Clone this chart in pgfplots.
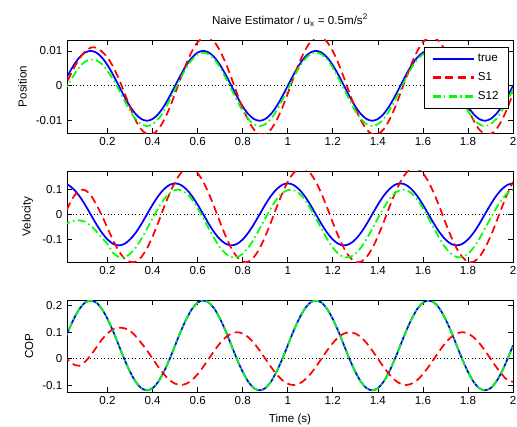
\documentclass[border=0pt]{standalone}
\usepackage{fontspec}
\setmainfont{Liberation Sans}
\usepackage{pgfplots}
\usepackage{pgfplotstable}
\pgfplotsset{compat=1.18}

% position: t, true, S1, S12
\pgfplotstableread{
t true s1 s12
0 0 -0.0017 -0.0015
0.025 0.0031 0.0017 0.0003
0.05 0.0059 0.0050 0.0030
0.075 0.0081 0.0078 0.0053
0.1 0.0095 0.0098 0.0069
0.125 0.0100 0.0109 0.0075
0.15 0.0095 0.0109 0.0073
0.175 0.0081 0.0098 0.0062
0.2 0.0059 0.0081 0.0042
0.225 0.0031 0.0054 0.0018
0.25 0 0.0020 -0.0010
0.275 -0.0031 -0.0020 -0.0042
0.3 -0.0059 -0.0061 -0.0072
0.325 -0.0081 -0.0099 -0.0095
0.35 -0.0095 -0.0125 -0.0110
0.375 -0.0100 -0.0138 -0.0115
0.4 -0.0095 -0.0138 -0.0110
0.425 -0.0081 -0.0125 -0.0095
0.45 -0.0059 -0.0099 -0.0072
0.475 -0.0031 -0.0064 -0.0042
0.5 0 -0.0022 -0.0010
0.525 0.0031 0.0022 0.0022
0.55 0.0059 0.0064 0.0052
0.575 0.0081 0.0099 0.0075
0.6 0.0095 0.0125 0.0090
0.625 0.0100 0.0138 0.0095
0.65 0.0095 0.0138 0.0090
0.675 0.0081 0.0125 0.0075
0.7 0.0059 0.0099 0.0052
0.725 0.0031 0.0064 0.0022
0.75 0 0.0022 -0.0010
0.775 -0.0031 -0.0022 -0.0042
0.8 -0.0059 -0.0064 -0.0072
0.825 -0.0081 -0.0099 -0.0095
0.85 -0.0095 -0.0125 -0.0110
0.875 -0.0100 -0.0138 -0.0115
0.9 -0.0095 -0.0138 -0.0110
0.925 -0.0081 -0.0125 -0.0095
0.95 -0.0059 -0.0099 -0.0072
0.975 -0.0031 -0.0064 -0.0042
1.0 0 -0.0022 -0.0010
1.025 0.0031 0.0022 0.0022
1.05 0.0059 0.0064 0.0052
1.075 0.0081 0.0099 0.0075
1.1 0.0095 0.0125 0.0090
1.125 0.0100 0.0138 0.0095
1.15 0.0095 0.0138 0.0090
1.175 0.0081 0.0125 0.0075
1.2 0.0059 0.0099 0.0052
1.225 0.0031 0.0064 0.0022
1.25 0 0.0022 -0.0010
1.275 -0.0031 -0.0022 -0.0042
1.3 -0.0059 -0.0064 -0.0072
1.325 -0.0081 -0.0099 -0.0095
1.35 -0.0095 -0.0125 -0.0110
1.375 -0.0100 -0.0138 -0.0115
1.4 -0.0095 -0.0138 -0.0110
1.425 -0.0081 -0.0125 -0.0095
1.45 -0.0059 -0.0099 -0.0072
1.475 -0.0031 -0.0064 -0.0042
1.5 0 -0.0022 -0.0010
1.525 0.0031 0.0022 0.0022
1.55 0.0059 0.0064 0.0052
1.575 0.0081 0.0099 0.0075
1.6 0.0095 0.0125 0.0090
1.625 0.0100 0.0138 0.0095
1.65 0.0095 0.0138 0.0090
1.675 0.0081 0.0125 0.0075
1.7 0.0059 0.0099 0.0052
1.725 0.0031 0.0064 0.0022
1.75 0 0.0022 -0.0010
1.775 -0.0031 -0.0022 -0.0042
1.8 -0.0059 -0.0064 -0.0072
1.825 -0.0081 -0.0099 -0.0095
1.85 -0.0095 -0.0125 -0.0110
1.875 -0.0100 -0.0138 -0.0115
1.9 -0.0095 -0.0138 -0.0110
1.925 -0.0081 -0.0125 -0.0095
1.95 -0.0059 -0.0099 -0.0072
1.975 -0.0031 -0.0064 -0.0042
2.0 0 -0.0022 -0.0010
}\postab

% velocity
\pgfplotstableread{
t true s1 s12
0 0.125 -0.030 -0.045
0.025 0.119 0.030 -0.034
0.05 0.101 0.072 -0.026
0.075 0.074 0.097 -0.024
0.1 0.039 0.098 -0.030
0.125 0 0.078 -0.045
0.15 -0.039 0.040 -0.068
0.175 -0.074 -0.005 -0.095
0.2 -0.101 -0.055 -0.120
0.225 -0.119 -0.105 -0.155
0.25 -0.125 -0.148 -0.172
0.275 -0.119 -0.178 -0.172
0.3 -0.101 -0.191 -0.159
0.325 -0.074 -0.191 -0.134
0.35 -0.039 -0.172 -0.099
0.375 0 -0.137 -0.058
0.4 0.039 -0.089 -0.016
0.425 0.074 -0.033 0.025
0.45 0.101 0.027 0.060
0.475 0.119 0.083 0.085
0.5 0.125 0.131 0.098
0.525 0.119 0.166 0.098
0.55 0.101 0.185 0.085
0.575 0.074 0.185 0.060
0.6 0.039 0.166 0.025
0.625 0 0.131 -0.016
0.65 -0.039 0.083 -0.058
0.675 -0.074 0.027 -0.099
0.7 -0.101 -0.033 -0.134
0.725 -0.119 -0.089 -0.159
0.75 -0.125 -0.137 -0.172
0.775 -0.119 -0.172 -0.172
0.8 -0.101 -0.191 -0.159
0.825 -0.074 -0.191 -0.134
0.85 -0.039 -0.172 -0.099
0.875 0 -0.137 -0.058
0.9 0.039 -0.089 -0.016
0.925 0.074 -0.033 0.025
0.95 0.101 0.027 0.060
0.975 0.119 0.083 0.085
1.0 0.125 0.131 0.098
1.025 0.119 0.166 0.098
1.05 0.101 0.185 0.085
1.075 0.074 0.185 0.060
1.1 0.039 0.166 0.025
1.125 0 0.131 -0.016
1.15 -0.039 0.083 -0.058
1.175 -0.074 0.027 -0.099
1.2 -0.101 -0.033 -0.134
1.225 -0.119 -0.089 -0.159
1.25 -0.125 -0.137 -0.172
1.275 -0.119 -0.172 -0.172
1.3 -0.101 -0.191 -0.159
1.325 -0.074 -0.191 -0.134
1.35 -0.039 -0.172 -0.099
1.375 0 -0.137 -0.058
1.4 0.039 -0.089 -0.016
1.425 0.074 -0.033 0.025
1.45 0.101 0.027 0.060
1.475 0.119 0.083 0.085
1.5 0.125 0.131 0.098
1.525 0.119 0.166 0.098
1.55 0.101 0.185 0.085
1.575 0.074 0.185 0.060
1.6 0.039 0.166 0.025
1.625 0 0.131 -0.016
1.65 -0.039 0.083 -0.058
1.675 -0.074 0.027 -0.099
1.7 -0.101 -0.033 -0.134
1.725 -0.119 -0.089 -0.159
1.75 -0.125 -0.137 -0.172
1.775 -0.119 -0.172 -0.172
1.8 -0.101 -0.191 -0.159
1.825 -0.074 -0.191 -0.134
1.85 -0.039 -0.172 -0.099
1.875 0 -0.137 -0.058
1.9 0.039 -0.089 -0.016
1.925 0.074 -0.033 0.025
1.95 0.101 0.027 0.060
1.975 0.119 0.083 0.085
2.0 0.125 0.131 0.098
}\veltab

% COP
\pgfplotstableread{
t true s1 s12
0 0.050 0.008 0.050
0.025 0.103 -0.005 0.103
0.05 0.150 -0.022 0.150
0.075 0.188 -0.027 0.188
0.1 0.212 -0.012 0.212
0.125 0.220 0.012 0.220
0.15 0.212 0.042 0.212
0.175 0.188 0.072 0.188
0.2 0.150 0.096 0.150
0.225 0.103 0.111 0.103
0.25 0.050 0.117 0.050
0.275 -0.003 0.115 -0.003
0.3 -0.050 0.105 -0.050
0.325 -0.088 0.085 -0.088
0.35 -0.112 0.059 -0.112
0.375 -0.120 0.031 -0.120
0.4 -0.112 0 -0.112
0.425 -0.088 -0.031 -0.088
0.45 -0.050 -0.059 -0.050
0.475 -0.003 -0.081 -0.003
0.5 0.050 -0.095 0.050
0.525 0.103 -0.100 0.103
0.55 0.150 -0.095 0.150
0.575 0.188 -0.081 0.188
0.6 0.212 -0.059 0.212
0.625 0.220 -0.031 0.220
0.65 0.212 0 0.212
0.675 0.188 0.031 0.188
0.7 0.150 0.059 0.150
0.725 0.103 0.081 0.103
0.75 0.050 0.095 0.050
0.775 -0.003 0.100 -0.003
0.8 -0.050 0.095 -0.050
0.825 -0.088 0.081 -0.088
0.85 -0.112 0.059 -0.112
0.875 -0.120 0.031 -0.120
0.9 -0.112 0 -0.112
0.925 -0.088 -0.031 -0.088
0.95 -0.050 -0.059 -0.050
0.975 -0.003 -0.081 -0.003
1.0 0.050 -0.095 0.050
1.025 0.103 -0.100 0.103
1.05 0.150 -0.095 0.150
1.075 0.188 -0.081 0.188
1.1 0.212 -0.059 0.212
1.125 0.220 -0.031 0.220
1.15 0.212 0 0.212
1.175 0.188 0.031 0.188
1.2 0.150 0.059 0.150
1.225 0.103 0.081 0.103
1.25 0.050 0.095 0.050
1.275 -0.003 0.100 -0.003
1.3 -0.050 0.095 -0.050
1.325 -0.088 0.081 -0.088
1.35 -0.112 0.059 -0.112
1.375 -0.120 0.031 -0.120
1.4 -0.112 0 -0.112
1.425 -0.088 -0.031 -0.088
1.45 -0.050 -0.059 -0.050
1.475 -0.003 -0.081 -0.003
1.5 0.050 -0.095 0.050
1.525 0.103 -0.100 0.103
1.55 0.150 -0.095 0.150
1.575 0.188 -0.081 0.188
1.6 0.212 -0.059 0.212
1.625 0.220 -0.031 0.220
1.65 0.212 0 0.212
1.675 0.188 0.031 0.188
1.7 0.150 0.059 0.150
1.725 0.103 0.081 0.103
1.75 0.050 0.095 0.050
1.775 -0.003 0.100 -0.003
1.8 -0.050 0.095 -0.050
1.825 -0.088 0.081 -0.088
1.85 -0.112 0.059 -0.112
1.875 -0.120 0.031 -0.120
1.9 -0.112 0 -0.112
1.925 -0.088 -0.031 -0.088
1.95 -0.050 -0.059 -0.050
1.975 -0.003 -0.081 -0.003
2.0 0.050 -0.088 0.050
}\coptab

\pgfplotsset{
  panel/.style={
    scale only axis, width=334.5pt, anchor=south west,
    xmin=0.02, xmax=2,
    xtick={0.2,0.4,0.6,0.8,1,1.2,1.4,1.6,1.8,2},
    tick align=inside, major tick length=3.5pt,
    axis line style={line width=0.5pt},
    every tick/.style={black, line width=0.5pt},
    tick label style={font=\fontsize{8.7}{10}\selectfont},
    label style={font=\fontsize{8.7}{10}\selectfont},
    /pgf/number format/assume math mode=true,
    scaled y ticks=false,
    yticklabel style={/pgf/number format/fixed},
  },
  tline/.style={blue, line width=1.3pt, smooth},
  s1line/.style={red, line width=1.3pt, dash pattern=on 6pt off 3.5pt, smooth},
  s12line/.style={green, line width=1.3pt, dash pattern=on 6pt off 2.5pt on 1.2pt off 2.5pt, smooth},
  zline/.style={black, dotted, line width=0.6pt},
}

\begin{document}
\begin{tikzpicture}
\path[use as bounding box] (0,0) rectangle (387.75pt,319.5pt);

\node[font=\fontsize{8.7}{10}\selectfont] at (217.5pt,304.5pt)
  {Naive Estimator / u\textsubscript{x} = 0.5m/s\textsuperscript{2}};

% position
\begin{axis}[panel, at={(50.25pt,219.75pt)}, height=69.75pt,
  ymin=-0.0135, ymax=0.0131, ytick={-0.01,0,0.01},
  ylabel={Position},
  legend style={at={(rel axis cs:0.989,0.928)}, anchor=north east,
    draw=black, font=\fontsize{8.7}{10}\selectfont,
    inner xsep=5pt, inner ysep=3.5pt, row sep=2.5pt},
  legend cell align=left,
  legend image code/.code={\draw[#1, line width=2pt] (0pt,0pt) -- (31pt,0pt);},
]
\addplot[zline, forget plot] coordinates {(0,0) (2,0)};
\addplot[tline] table[x=t, y=true] {\postab};
\addlegendentry{true}
\addplot[s1line] table[x=t, y=s1] {\postab};
\addlegendentry{S1}
\addplot[s12line] table[x=t, y=s12] {\postab};
\addlegendentry{S12}
\end{axis}

% velocity
\begin{axis}[panel, at={(50.25pt,123pt)}, height=68.25pt,
  ymin=-0.192, ymax=0.175, ytick={-0.1,0,0.1},
  ylabel={Velocity},
]
\addplot[zline, forget plot] coordinates {(0,0) (2,0)};
\addplot[tline] table[x=t, y=true] {\veltab};
\addplot[s1line] table[x=t, y=s1] {\veltab};
\addplot[s12line] table[x=t, y=s12] {\veltab};
\end{axis}

% COP
\begin{axis}[panel, at={(50.25pt,25.5pt)}, height=69pt,
  ymin=-0.1265, ymax=0.222, ytick={-0.1,0,0.1,0.2},
  ylabel={COP}, xlabel={Time (s)},
]
\addplot[zline, forget plot] coordinates {(0,0) (2,0)};
\addplot[tline] table[x=t, y=true] {\coptab};
\addplot[s1line] table[x=t, y=s1] {\coptab};
\addplot[s12line] table[x=t, y=s12] {\coptab};
\end{axis}
\end{tikzpicture}
\end{document}
